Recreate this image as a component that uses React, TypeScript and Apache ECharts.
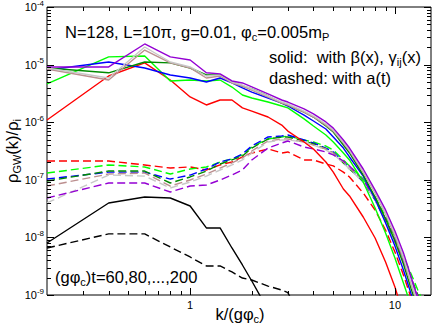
import React, { useEffect, useRef } from 'react';
import * as echarts from 'echarts';

const FONT = '"Liberation Sans", Arial, Helvetica, sans-serif';

// k/(g phi_c) grid of the spectra
const kValues = [0.2, 0.4, 0.6, 0.8, 1.0, 1.2, 1.4, 1.6, 1.8, 2.0, 2.4, 2.8, 3.0, 3.6, 4.0, 4.6, 5.0, 5.6, 6.0, 7, 8, 9, 10, 11, 12, 13, 14, 15];

// solid: with beta(x), gamma_ij(x)
const solid60 = [8.0e-9, 3.96e-8, 5.03e-8, 4.83e-8, 3.51e-8, 1.46e-8, 1.46e-8, 6.55e-9, 3.32e-9, 1.75e-9, 5.5e-10];
const solid80 = [1.09e-6, 6.34e-6, 1.07e-5, 5.4e-6, 2.74e-6, 1.99e-6, 2.43e-6, 2.43e-6, 1.77e-6, 1.56e-6, 1.23e-6, 8.9e-7, 7.0e-7, 4.53e-7, 3.43e-7, 2.04e-7, 1.36e-7, 6.92e-8, 5.24e-8, 2.26e-8, 9.77e-9, 3.74e-9, 1.38e-9, 4.5e-10, 1.66e-10];
const solid100 = [4.61e-6, 1.36e-5, 1.41e-5, 5.19e-6, 5.4e-6, 5.19e-6, 5.4e-6, 4.08e-6, 2.97e-6, 2.63e-6, 2.24e-6, 1.91e-6, 1.77e-6, 1.14e-6, 8.59e-7, 6.0e-7, 4.53e-7, 2.92e-7, 2.21e-7, 9.16e-8, 3.24e-8, 1.19e-8, 4.39e-9, 1.62e-9, 6.44e-10, 2.8e-10];
const solid120 = [8.06e-6, 1.11e-5, 8.73e-6, 6.6e-6, 5.85e-6, 4.99e-6, 5.85e-6, 4.8e-6, 3.93e-6, 3.34e-6, 2.63e-6, 2.15e-6, 1.91e-6, 1.33e-6, 1.05e-6, 7.62e-7, 5.54e-7, 3.56e-7, 2.49e-7, 1.16e-7, 4.64e-8, 1.78e-8, 7.1e-9, 2.72e-9, 1.04e-9, 4.5e-10, 2.0e-10];
const solid140 = [8.73e-6, 7.2e-6, 1.11e-5, 1.07e-5, 8.73e-6, 6.6e-6, 6.6e-6, 4.99e-6, 4.25e-6, 3.77e-6, 2.85e-6, 2.15e-6, 1.99e-6, 1.5e-6, 1.23e-6, 8.59e-7, 6.76e-7, 4.02e-7, 2.92e-7, 1.21e-7, 5.03e-8, 2.09e-8, 8.66e-9, 3.45e-9, 1.27e-9, 5.5e-10, 2.5e-10];
const solid160 = [8.39e-6, 5.4e-6, 1.79e-5, 1.07e-5, 8.73e-6, 5.85e-6, 6.34e-6, 4.8e-6, 4.25e-6, 3.62e-6, 2.74e-6, 2.15e-6, 1.99e-6, 1.5e-6, 1.23e-6, 8.9e-7, 7.0e-7, 4.35e-7, 3.16e-7, 1.36e-7, 5.9e-8, 2.55e-8, 1.06e-8, 4.2e-9, 1.55e-9, 6.2e-10, 2.8e-10];
const solid180 = [8.73e-6, 5.85e-6, 2.02e-5, 1.11e-5, 9.1e-6, 6.34e-6, 6.6e-6, 4.99e-6, 4.42e-6, 3.77e-6, 2.85e-6, 2.24e-6, 2.07e-6, 1.56e-6, 1.28e-6, 9.3e-7, 7.3e-7, 4.53e-7, 3.29e-7, 1.42e-7, 6.14e-8, 2.65e-8, 1.15e-8, 4.57e-9, 1.68e-9, 6.7e-10, 3.0e-10];
const solid200 = [9.1e-6, 9.1e-6, 2.28e-5, 1.36e-5, 1.2e-5, 7.2e-6, 6.9e-6, 5.2e-6, 4.8e-6, 4.1e-6, 3.1e-6, 2.43e-6, 2.24e-6, 1.7e-6, 1.39e-6, 1.01e-6, 7.9e-7, 4.9e-7, 3.56e-7, 1.54e-7, 6.6e-8, 3.0e-8, 1.29e-8, 5.4e-9, 2.05e-9, 8.2e-10, 3.7e-10];

// dashed: with a(t)
const dashed60 = [6.55e-9, 1.15e-8, 1.15e-8, 6.81e-9, 4.57e-9, 3.19e-9, 3.19e-9, 2.51e-9, 1.97e-9, 1.82e-9, 1.43e-9, 1.22e-9, 1.1e-9, 3.0e-10];
const dashed80 = [2.12e-7, 2.12e-7, 1.81e-7, 1.6e-7, 1.67e-7, 1.48e-7, 1.81e-7, 2.04e-7, 2.49e-7, 2.92e-7, 3.43e-7, 2.92e-7, 3.04e-7, 2.21e-7, 2.21e-7, 1.88e-7, 1.74e-7, 1.36e-7, 1.12e-7, 5.9e-8, 2.99e-8, 1.34e-8, 5.58e-9, 2.22e-9, 8.9e-10, 3.7e-10];
const dashed100 = [1.31e-7, 1.81e-7, 1.67e-7, 1.26e-7, 1.54e-7, 1.67e-7, 2.04e-7, 2.3e-7, 2.7e-7, 3.71e-7, 5.11e-7, 5.54e-7, 5.76e-7, 4.91e-7, 4.53e-7, 3.86e-7, 3.29e-7, 2.21e-7, 1.74e-7, 1.03e-7, 5.03e-8, 2.26e-8, 1.02e-8, 4.57e-9, 2.32e-9, 1.17e-9, 6.7e-10];
const dashed120 = [1.03e-7, 1.36e-7, 1.36e-7, 1.03e-7, 1.21e-7, 1.54e-7, 2.04e-7, 2.3e-7, 2.81e-7, 3.86e-7, 5.54e-7, 5.76e-7, 6.0e-7, 4.91e-7, 4.35e-7, 3.56e-7, 3.04e-7, 2.04e-7, 1.6e-7, 9.16e-8, 4.46e-8, 1.93e-8, 8.32e-9, 3.74e-9, 1.82e-9, 8.9e-10, 4.5e-10];
const dashed140 = [9.53e-8, 1.42e-7, 1.42e-7, 8.8e-8, 1.12e-7, 1.42e-7, 1.88e-7, 2.21e-7, 2.59e-7, 3.56e-7, 5.11e-7, 5.54e-7, 5.54e-7, 4.72e-7, 4.18e-7, 3.43e-7, 2.92e-7, 1.96e-7, 1.54e-7, 9.53e-8, 4.64e-8, 2.09e-8, 9.0e-9, 4.05e-9, 1.97e-9, 9.6e-10, 5.0e-10];
const dashed160 = [7.8e-8, 1.26e-7, 1.31e-7, 7.8e-8, 9.93e-8, 1.26e-7, 1.6e-7, 1.96e-7, 2.39e-7, 3.16e-7, 4.72e-7, 5.11e-7, 5.11e-7, 4.53e-7, 4.02e-7, 3.43e-7, 2.92e-7, 2.04e-7, 1.6e-7, 9.53e-8, 4.64e-8, 2.0e-8, 8.66e-9, 3.74e-9, 1.75e-9, 8.9e-10, 4.5e-10];
const dashed180 = [3.96e-8, 1.21e-7, 1.16e-7, 7.2e-8, 9.16e-8, 1.16e-7, 1.48e-7, 1.81e-7, 2.21e-7, 2.92e-7, 4.53e-7, 4.91e-7, 4.91e-7, 4.53e-7, 4.02e-7, 3.29e-7, 2.81e-7, 1.96e-7, 1.54e-7, 9.16e-8, 4.46e-8, 1.93e-8, 8.32e-9, 3.6e-9, 1.68e-9, 8.2e-10, 4.3e-10];
const dashed200 = [4.83e-8, 8.8e-8, 8.8e-8, 6.14e-8, 7.8e-8, 8.13e-8, 9.93e-8, 1.21e-7, 1.48e-7, 2.21e-7, 3.56e-7, 4.35e-7, 4.72e-7, 3.71e-7, 3.43e-7, 3.04e-7, 2.7e-7, 2.12e-7, 1.74e-7, 9.93e-8, 4.83e-8, 2.09e-8, 9.0e-9, 3.89e-9, 1.82e-9, 8.9e-10, 4.68e-10];

const times = [60, 80, 100, 120, 140, 160, 180, 200];
const colors = ['#000000', '#ff0000', '#00ff00', '#0000ff', '#008b00', '#bc8f8f', '#c8c8c8', '#9400d3'];
const solidSets = [solid60, solid80, solid100, solid120, solid140, solid160, solid180, solid200];
const dashedSets = [dashed60, dashed80, dashed100, dashed120, dashed140, dashed160, dashed180, dashed200];

// axes
const X_MIN = 0.2;
const X_MAX = 15;
const Y_MIN = 1e-9;
const Y_MAX = 1e-4;
const xMajorTicks = [1, 10];
const xMinorTicks = [0.3, 0.4, 0.5, 0.6, 0.7, 0.8, 0.9, 2, 3, 4, 5, 6, 7, 8, 9];
const yMajorTicks = [1e-9, 1e-8, 1e-7, 1e-6, 1e-5, 1e-4];
const yMinorTicks = [
  2e-9, 3e-9, 4e-9, 5e-9, 6e-9, 7e-9, 8e-9, 9e-9,
  2e-8, 3e-8, 4e-8, 5e-8, 6e-8, 7e-8, 8e-8, 9e-8,
  2e-7, 3e-7, 4e-7, 5e-7, 6e-7, 7e-7, 8e-7, 9e-7,
  2e-6, 3e-6, 4e-6, 5e-6, 6e-6, 7e-6, 8e-6, 9e-6,
  2e-5, 3e-5, 4e-5, 5e-5, 6e-5, 7e-5, 8e-5, 9e-5,
];

const MAJOR = 7;
const MINOR = 4;

function buildOption() {
  const series: any[] = [];
  const mk = (arr: number[], i: number, dashed: boolean) => ({
    type: 'line',
    name: `t=${times[i]}${dashed ? ' dashed' : ''}`,
    data: arr.map((v, j) => [kValues[j], v]),
    showSymbol: false,
    symbol: 'none',
    silent: true,
    clip: true,
    z: 2,
    lineStyle: { color: colors[i], width: 1.4, type: dashed ? [8, 4] : 'solid' },
  });
  dashedSets.forEach((arr, i) => series.push(mk(arr, i, true)));
  solidSets.forEach((arr, i) => series.push(mk(arr, i, false)));

  series.push({
    type: 'custom',
    coordinateSystem: 'cartesian2d',
    silent: true,
    clip: false,
    z: 5,
    data: [[1, 1e-6]],
    renderItem: (_params: any, api: any) => {
      const ch: any[] = [];
      const seg = (x1: number, y1: number, x2: number, y2: number) =>
        ch.push({ type: 'line', shape: { x1, y1, x2, y2 }, style: { stroke: '#000', lineWidth: 1 } });
      const xt = (x: number, len: number) => {
        const b = api.coord([x, Y_MIN]);
        const t = api.coord([x, Y_MAX]);
        const px = Math.round(b[0]) + 0.5;
        seg(px, b[1], px, b[1] - len);
        seg(px, t[1], px, t[1] + len);
      };
      const yt = (y: number, len: number) => {
        const l = api.coord([X_MIN, y]);
        const r = api.coord([X_MAX, y]);
        const py = Math.round(l[1]) + 0.5;
        seg(l[0], py, l[0] + len, py);
        seg(r[0], py, r[0] - len, py);
      };
      xMajorTicks.forEach((x) => xt(x, MAJOR));
      xMinorTicks.forEach((x) => xt(x, MINOR));
      yMajorTicks.forEach((y) => yt(y, MAJOR));
      yMinorTicks.forEach((y) => yt(y, MINOR));
      return { type: 'group', children: ch };
    },
  });

  const richA = { fontSize: 16.5, fontFamily: FONT, fill: '#000', color: '#000', lineHeight: 20 };
  const richS = { fontSize: 11, fontFamily: FONT, fill: '#000', color: '#000', lineHeight: 12, verticalAlign: 'bottom' };
  const txt = (x: number, y: number, text: string, align = 'left', rotation = 0) => ({
    type: 'text',
    x,
    y,
    rotation,
    silent: true,
    z: 10,
    style: {
      text,
      fill: '#000',
      align,
      textAlign: align,
      verticalAlign: 'middle',
      textVerticalAlign: 'middle',
      fontSize: 16.5,
      fontFamily: FONT,
      rich: { a: richA, s: richS },
    },
  });

  return {
    animation: false,
    backgroundColor: '#ffffff',
    grid: {
      left: 47,
      right: 5,
      top: 7,
      bottom: 32,
      show: true,
      borderColor: '#000',
      borderWidth: 1,
      backgroundColor: 'transparent',
      containLabel: false,
      outerBoundsMode: 'none',
    },
    xAxis: {
      type: 'log',
      logBase: 10,
      min: X_MIN,
      max: X_MAX,
      axisLine: { show: false },
      axisTick: { show: false },
      splitLine: { show: false },
      minorTick: { show: false },
      axisLabel: {
        margin: 4,
        color: '#000',
        fontSize: 11,
        fontFamily: FONT,
        formatter: (v: number) => {
          const e = Math.log10(v);
          if (Math.abs(e - Math.round(e)) > 1e-6) return '';
          return String(Math.round(v));
        },
      },
    },
    yAxis: {
      type: 'log',
      logBase: 10,
      min: Y_MIN,
      max: Y_MAX,
      axisLine: { show: false },
      axisTick: { show: false },
      splitLine: { show: false },
      minorTick: { show: false },
      axisLabel: {
        margin: 3,
        color: '#000',
        fontFamily: FONT,
        formatter: (v: number) => {
          const e = Math.round(Math.log10(v));
          return `{b|10}{s|${e}}`;
        },
        rich: {
          b: { fontSize: 11, fontFamily: FONT, color: '#000', lineHeight: 16 },
          s: { fontSize: 8, fontFamily: FONT, color: '#000', lineHeight: 8, verticalAlign: 'top' },
        },
      },
    },
    graphic: [
      txt(65, 32, '{a|N=128, L=10π, g=0.01, φ}{s|c}{a|=0.005m}{s|P}'),
      txt(269, 57, '{a|solid:  with β(x), γ}{s|ij}{a|(x)}'),
      txt(269, 78, '{a|dashed: with a(t)}'),
      txt(55, 277, '{a|(gφ}{s|c}{a|)t=60,80,...,200}'),
      txt(240, 314, '{a|k/(gφ}{s|c}{a|)}', 'center'),
      txt(12, 151, '{a|ρ}{s|GW}{a|(k)/ρ}{s|i}', 'center', Math.PI / 2),
    ],
    series,
  };
}

export default function App() {
  const ref = useRef<HTMLDivElement>(null);
  useEffect(() => {
    if (!ref.current) return;
    const chart = echarts.init(ref.current, null, { renderer: 'svg' });
    chart.setOption(buildOption() as any);
    return () => chart.dispose();
  }, []);
  return (
    <div
      ref={ref}
      style={{ position: 'fixed', left: 0, top: 0, width: 436, height: 327, background: '#fff' }}
    />
  );
}
